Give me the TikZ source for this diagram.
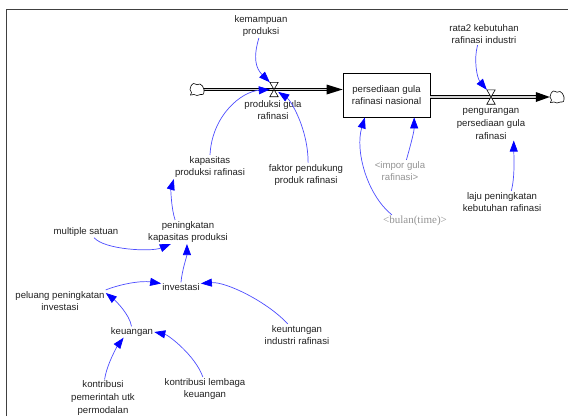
\documentclass[tikz,border=0pt]{standalone}
\usepackage{fontspec}
\setmainfont{Liberation Sans}
\newfontfamily\timesfont{Liberation Serif}
\usetikzlibrary{arrows.meta}
\definecolor{linkline}{rgb}{0.3,0.3,1}
\definecolor{linkhead}{rgb}{0,0,1}
\definecolor{labeltext}{rgb}{0.13,0.13,0.13}
\definecolor{shadowtext}{rgb}{0.58,0.58,0.58}
\definecolor{framegray}{rgb}{0.25,0.25,0.25}
\begin{document}
\begin{tikzpicture}[x=1pt,y=-1pt,
  lbl/.style={font=\fontsize{9.6}{12.7}\selectfont, align=center, inner sep=1pt, text=labeltext},
  shadowlbl/.style={lbl, text=shadowtext},
  stockbox/.style={draw, line width=0.8pt, minimum width=87pt, minimum height=44pt, inner sep=0pt,
    align=center, font=\fontsize{9.6}{12.7}\selectfont, text=labeltext, fill=white},
  valve/.style={minimum width=8pt, minimum height=14pt, inner sep=0pt},
  sink/.style={minimum width=14pt, minimum height=12pt, inner sep=0pt},
  cloudline/.style={draw=black, fill=white, line width=0.6pt},
  pipe/.style={line width=0.8pt, double=gray!35, double distance=1.6pt},
  link/.style={draw=linkline, line width=0.7pt, -{Triangle[length=11pt,width=8pt,color=linkhead]}},
]
\useasboundingbox (0,0) rectangle (568,416);
% frame
\draw[framegray, line width=1pt] (6,416) -- (6,9.5) -- (568,9.5);

% stock and flows
\node[sink] (cloudL) at (197,89.5) {};
\node[valve] (v1) at (274,89.5) {};
\node[stockbox] (stock) at (386.5,95) {persediaan gula\\rafinasi nasional};
\node[valve] (v2) at (491,97) {};
\node[sink] (cloudR) at (557,97) {};

\draw[pipe, shorten >=14pt] (cloudL.east) -- (stock.west |- v1);
\fill (stock.west |- v1) -- ++(-16,5) -- ++(0,-10) -- cycle;
\draw[pipe, shorten >=12pt] (stock.east |- v2) -- (cloudR.west);
\fill (cloudR.west) -- ++(-14,5) -- ++(0,-10) -- cycle;

% puffy source and sink outlines
\foreach \c in {cloudL, cloudR}{
  \draw[cloudline, shift={(\c.center)}] plot[smooth cycle, tension=0.55] coordinates
    {(7,0) (5.5,-3.5) (3,-5.5) (0,-4.8) (-3.5,-6) (-6,-3.5) (-7,0) (-5.5,3) (-6.5,5.5) (-3,5) (0,6) (3.5,5) (6.5,4.5)};
}

\draw[fill=white, line width=0.6pt] (v1.north west) -- (v1.north east) -- (v1.south west) -- (v1.south east) -- cycle;
\draw[fill=white, line width=0.6pt] (v2.north west) -- (v2.north east) -- (v2.south west) -- (v2.south east) -- cycle;

% variables
\node[lbl] (prodlbl) at (273,110) {produksi gula\\rafinasi};
\node[lbl] (kemampuan) at (261,26) {kemampuan\\produksi};
\node[lbl] (rata) at (484,34) {rata2 kebutuhan\\rafinasi industri};
\node[lbl] (penglbl) at (491,124) {pengurangan\\persediaan gula\\rafinasi};
\node[shadowlbl] (impor) at (400,171) {<impor gula\\rafinasi>};
\node[shadowlbl, font=\timesfont\fontsize{11}{13}\selectfont] (bulan) at (415,221) {<bulan(time)>};
\node[lbl] (laju) at (502,202) {laju peningkatan\\kebutuhan rafinasi};
\node[lbl] (kapasitas) at (210,167) {kapasitas\\produksi rafinasi};
\node[lbl] (faktor) at (306,175) {faktor pendukung\\produk rafinasi};
\node[lbl] (peningkatan) at (188,232) {peningkatan\\kapasitas produksi};
\node[lbl] (multiple) at (86,232) {multiple satuan};
\node[lbl] (investasi) at (181,287) {investasi};
\node[lbl] (peluang) at (60,301) {peluang peningkatan\\investasi};
\node[lbl] (keuangan) at (132,332) {keuangan};
\node[lbl] (keuntungan) at (297,335) {keuntungan\\industri rafinasi};
\node[lbl] (kpem) at (103,398) {kontribusi\\pemerintah utk\\permodalan};
\node[lbl] (klem) at (205,389) {kontribusi lembaga\\keuangan};

% causal links
\draw[link] (kemampuan.-100) .. controls +(-6,20) and +(-14,-14) .. (v1.north west);
\draw[link] (kapasitas.north) .. controls +(2,-40) and +(-28,2) .. (v1.west);
\draw[link] (faktor.80) .. controls +(0,-35) and +(12,8) .. (v1.-30);
\draw[link] (rata.-120) .. controls +(-4,14) and +(-10,-12) .. (v2.north west);
\draw[link] (impor.60) .. controls +(4,-14) and +(0,14) .. (stock.-39);
\draw[link] (bulan.165) .. controls +(-25,-20) and +(-10,33) .. (stock.226);
\draw[link] (laju.50) .. controls +(4,-15) and +(0,12) .. (penglbl.-36);
\draw[link] (peningkatan.137) .. controls +(-4,-12) and +(-3,10) .. (kapasitas.south west);
\draw[link] (multiple.-35) .. controls +(10,12) and +(-20,8) .. (peningkatan.215);
\draw[link] (investasi.north) .. controls +(1,-12) and +(0,12) .. (peningkatan.-95);
\draw[link] (peluang.north east) .. controls +(15,-6) and +(-20,-3) .. (investasi.170);
\draw[link] (keuntungan.130) .. controls +(-20,-22) and +(25,-2) .. (investasi.10);
\draw[link] (keuangan.95) .. controls +(-2,-12) and +(10,8) .. (peluang.10);
\draw[link] (kpem.85) .. controls +(2,-15) and +(-6,8) .. (keuangan.214);
\draw[link] (klem.100) .. controls +(-8,-22) and +(14,3) .. (keuangan.east);
\end{tikzpicture}
\end{document}
